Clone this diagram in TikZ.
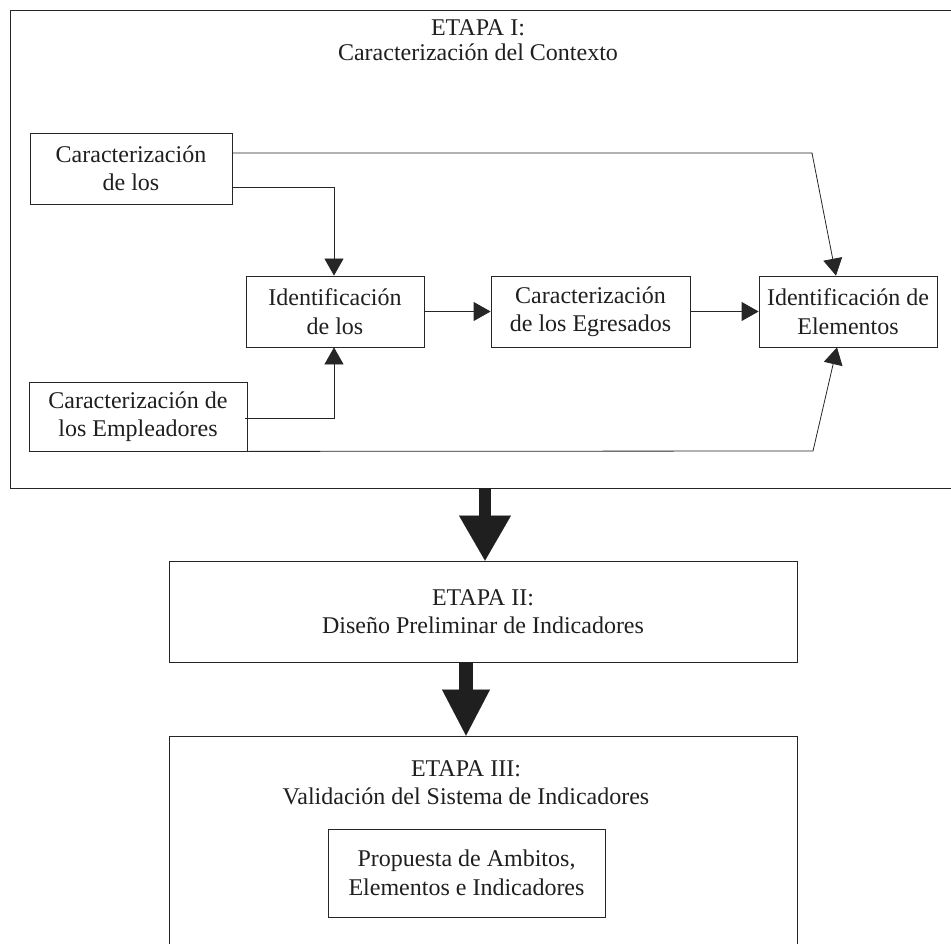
\documentclass[tikz,border=0pt]{standalone}
\usepackage{fontspec}
\setmainfont{Liberation Serif}
\usetikzlibrary{arrows.meta}
\begin{document}
\begin{tikzpicture}[x=1pt,y=-1pt,
  txt/.style={font=\fontsize{24}{28.5}\selectfont, align=center, text=black!88},
  box/.style={draw=black!85, line width=0.8pt, txt, inner sep=0pt},
  stage/.style={draw=black!85, line width=0.9pt, inner sep=0pt},
  conn/.style={draw=black!85, line width=0.8pt, -{Triangle[length=17pt,width=19pt]}},
  plain/.style={draw=black!85, line width=0.8pt}
]
\useasboundingbox (0,0) rectangle (951,944);
\clip (0,0) rectangle (951,944);

% ETAPA I
\node[stage, minimum width=960pt, minimum height=478pt] (S1) at (490,249) {};
\node[txt, font=\fontsize{24}{24.5}\selectfont] (T1) at (478,40) {ETAPA I:\\Caracterización del Contexto};

\node[box, minimum width=202pt, minimum height=71pt] (A) at (131,168.5) {Caracterización\\de los};
\node[box, minimum width=178pt, minimum height=71pt] (B) at (335,311.5) {Identificación\\de los};
\node[box, minimum width=218pt, minimum height=69pt] (C) at (138,416.5) {Caracterización de\\los Empleadores};
\node[box, minimum width=199pt, minimum height=71pt] (D) at (590.5,311.5) {Caracterización\\de los Egresados};
\node[box, minimum width=178pt, minimum height=71pt] (E) at (848,311.5) {Identificación de\\Elementos};

\coordinate (k1) at (812,153);
\coordinate (k2) at (813,451);
\coordinate (xb) at (334,0);

\draw[conn] ([yshift=15.5pt]A.east) -- (k1) -- ([xshift=-12pt]E.north);
\draw[conn] ([yshift=-18.5pt]A.east) -| (B.north -| xb);
\draw[conn] ([yshift=-1.5pt,xshift=-2pt]C.east) -| (B.south -| xb);
\draw[conn] (B.east) -- (D.west);
\draw[conn] (D.east) -- (E.west);
\draw[conn] (C.south east) -- (k2) -- ([xshift=-11pt]E.south);

% ETAPA II
\node[stage, txt, minimum width=628pt, minimum height=101pt] (S2) at (483,611.5) {ETAPA II:\\Diseño Preliminar de Indicadores};

% ETAPA III
\node[stage, minimum width=628pt, minimum height=240pt] (S3) at (483,856) {};
\node[txt] (T3) at (466,783) {ETAPA III:\\Validación del Sistema de Indicadores};
\node[box, minimum width=277pt, minimum height=88pt] (P) at (466.5,873) {Propuesta de Ambitos,\\Elementos e Indicadores};

% big arrows
\coordinate (c1) at (485,0);
\coordinate (c2) at (466,0);
\draw[black!88, line width=12pt, -{Triangle[length=45pt,width=52pt,line width=0.01pt]}] (S1.south -| c1) -- (S2.north -| c1);
\draw[black!88, line width=14pt, -{Triangle[length=46pt,width=48pt,line width=0.01pt]}] (S2.south -| c2) -- (S3.north -| c2);
\end{tikzpicture}
\end{document}
